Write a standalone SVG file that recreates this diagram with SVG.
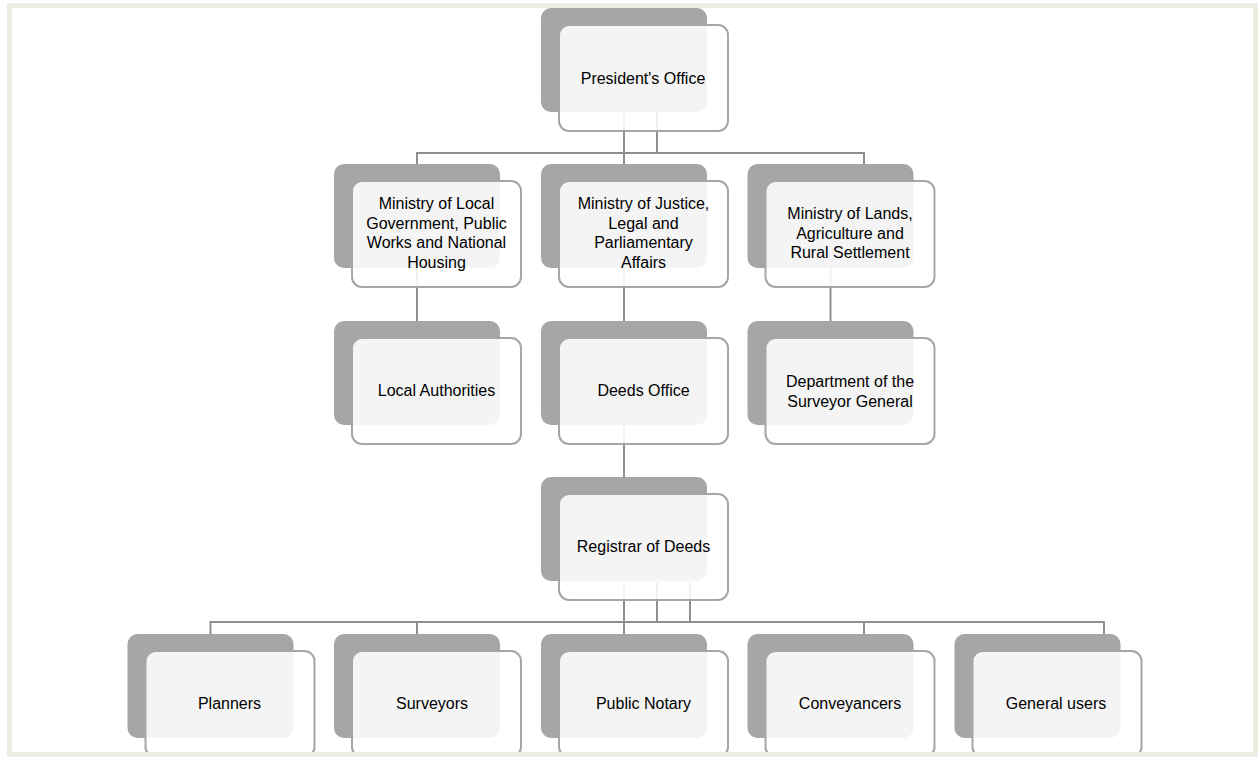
<svg xmlns="http://www.w3.org/2000/svg" width="1258" height="757" viewBox="0 0 1258 757">
<style>
.back{fill:#a6a6a6}
.front{fill:#ffffff;fill-opacity:0.88;stroke:#a6a6a6;stroke-width:2}
.lbl{font-family:"Liberation Sans",Arial,sans-serif;font-size:16px;fill:#000;text-anchor:middle}
.conn{fill:none;stroke:#8f8f8f;stroke-width:2}
</style>
<rect x="0" y="0" width="1258" height="757" fill="#ffffff"/>
<g id="connectors">
<path class="conn" d="M624,112V153M657,112V153M417,164V153H864V164M624,153V164"/>
<path class="conn" d="M417,268V321M624,268V321M830.5,268V321"/>
<path class="conn" d="M624,425V477"/>
<path class="conn" d="M624,582V622M657,582V622M690,582V622M210.5,634V622H1104V634M417,622V634M624,622V634M864,622V634"/>
</g>
<g id="n-president"><rect class="back" x="541" y="8" width="166" height="104" rx="10"/><rect class="front" x="559" y="25" width="169" height="106" rx="10"/><text class="lbl" x="643" y="84">President's Office</text></g>
<g id="n-local-gov"><rect class="back" x="334" y="164" width="166" height="104" rx="10"/><rect class="front" x="352" y="181" width="169" height="106" rx="10"/><text class="lbl" x="436.5" y="209"><tspan x="436.5">Ministry of Local</tspan><tspan x="436.5" dy="19.5">Government, Public</tspan><tspan x="436.5" dy="19.5">Works and National</tspan><tspan x="436.5" dy="19.5">Housing</tspan></text></g>
<g id="n-justice"><rect class="back" x="541" y="164" width="166" height="104" rx="10"/><rect class="front" x="559" y="181" width="169" height="106" rx="10"/><text class="lbl" x="643.5" y="209"><tspan x="643.5">Ministry of Justice,</tspan><tspan x="643.5" dy="19.5">Legal and</tspan><tspan x="643.5" dy="19.5">Parliamentary</tspan><tspan x="643.5" dy="19.5">Affairs</tspan></text></g>
<g id="n-lands"><rect class="back" x="747.5" y="164" width="166" height="104" rx="10"/><rect class="front" x="765.5" y="181" width="169" height="106" rx="10"/><text class="lbl" x="850" y="219"><tspan x="850">Ministry of Lands,</tspan><tspan x="850" dy="19.5">Agriculture and</tspan><tspan x="850" dy="19.5">Rural Settlement</tspan></text></g>
<g id="n-local-auth"><rect class="back" x="334" y="321" width="166" height="104" rx="10"/><rect class="front" x="352" y="338" width="169" height="106" rx="10"/><text class="lbl" x="436.5" y="396">Local Authorities</text></g>
<g id="n-deeds"><rect class="back" x="541" y="321" width="166" height="104" rx="10"/><rect class="front" x="559" y="338" width="169" height="106" rx="10"/><text class="lbl" x="643.5" y="396">Deeds Office</text></g>
<g id="n-surveyor-general"><rect class="back" x="747.5" y="321" width="166" height="104" rx="10"/><rect class="front" x="765.5" y="338" width="169" height="106" rx="10"/><text class="lbl" x="850" y="387"><tspan x="850">Department of the</tspan><tspan x="850" dy="19.5">Surveyor General</tspan></text></g>
<g id="n-registrar"><rect class="back" x="541" y="477" width="166" height="104" rx="10"/><rect class="front" x="559" y="494" width="169" height="106" rx="10"/><text class="lbl" x="643.5" y="552">Registrar of Deeds</text></g>
<g id="n-planners"><rect class="back" x="127.5" y="634" width="166" height="104" rx="10"/><rect class="front" x="145.5" y="651" width="169" height="106" rx="10"/><text class="lbl" x="229.5" y="709">Planners</text></g>
<g id="n-surveyors"><rect class="back" x="334" y="634" width="166" height="104" rx="10"/><rect class="front" x="352" y="651" width="169" height="106" rx="10"/><text class="lbl" x="432" y="709">Surveyors</text></g>
<g id="n-notary"><rect class="back" x="541" y="634" width="166" height="104" rx="10"/><rect class="front" x="559" y="651" width="169" height="106" rx="10"/><text class="lbl" x="643.5" y="709">Public Notary</text></g>
<g id="n-conveyancers"><rect class="back" x="747.5" y="634" width="166" height="104" rx="10"/><rect class="front" x="765.5" y="651" width="169" height="106" rx="10"/><text class="lbl" x="850" y="709">Conveyancers</text></g>
<g id="n-general"><rect class="back" x="954.5" y="634" width="166" height="104" rx="10"/><rect class="front" x="972.5" y="651" width="169" height="106" rx="10"/><text class="lbl" x="1056" y="709">General users</text></g>
<rect x="9.5" y="5.5" width="1246" height="749" fill="none" stroke="#eeece1" stroke-width="5"/>
</svg>
